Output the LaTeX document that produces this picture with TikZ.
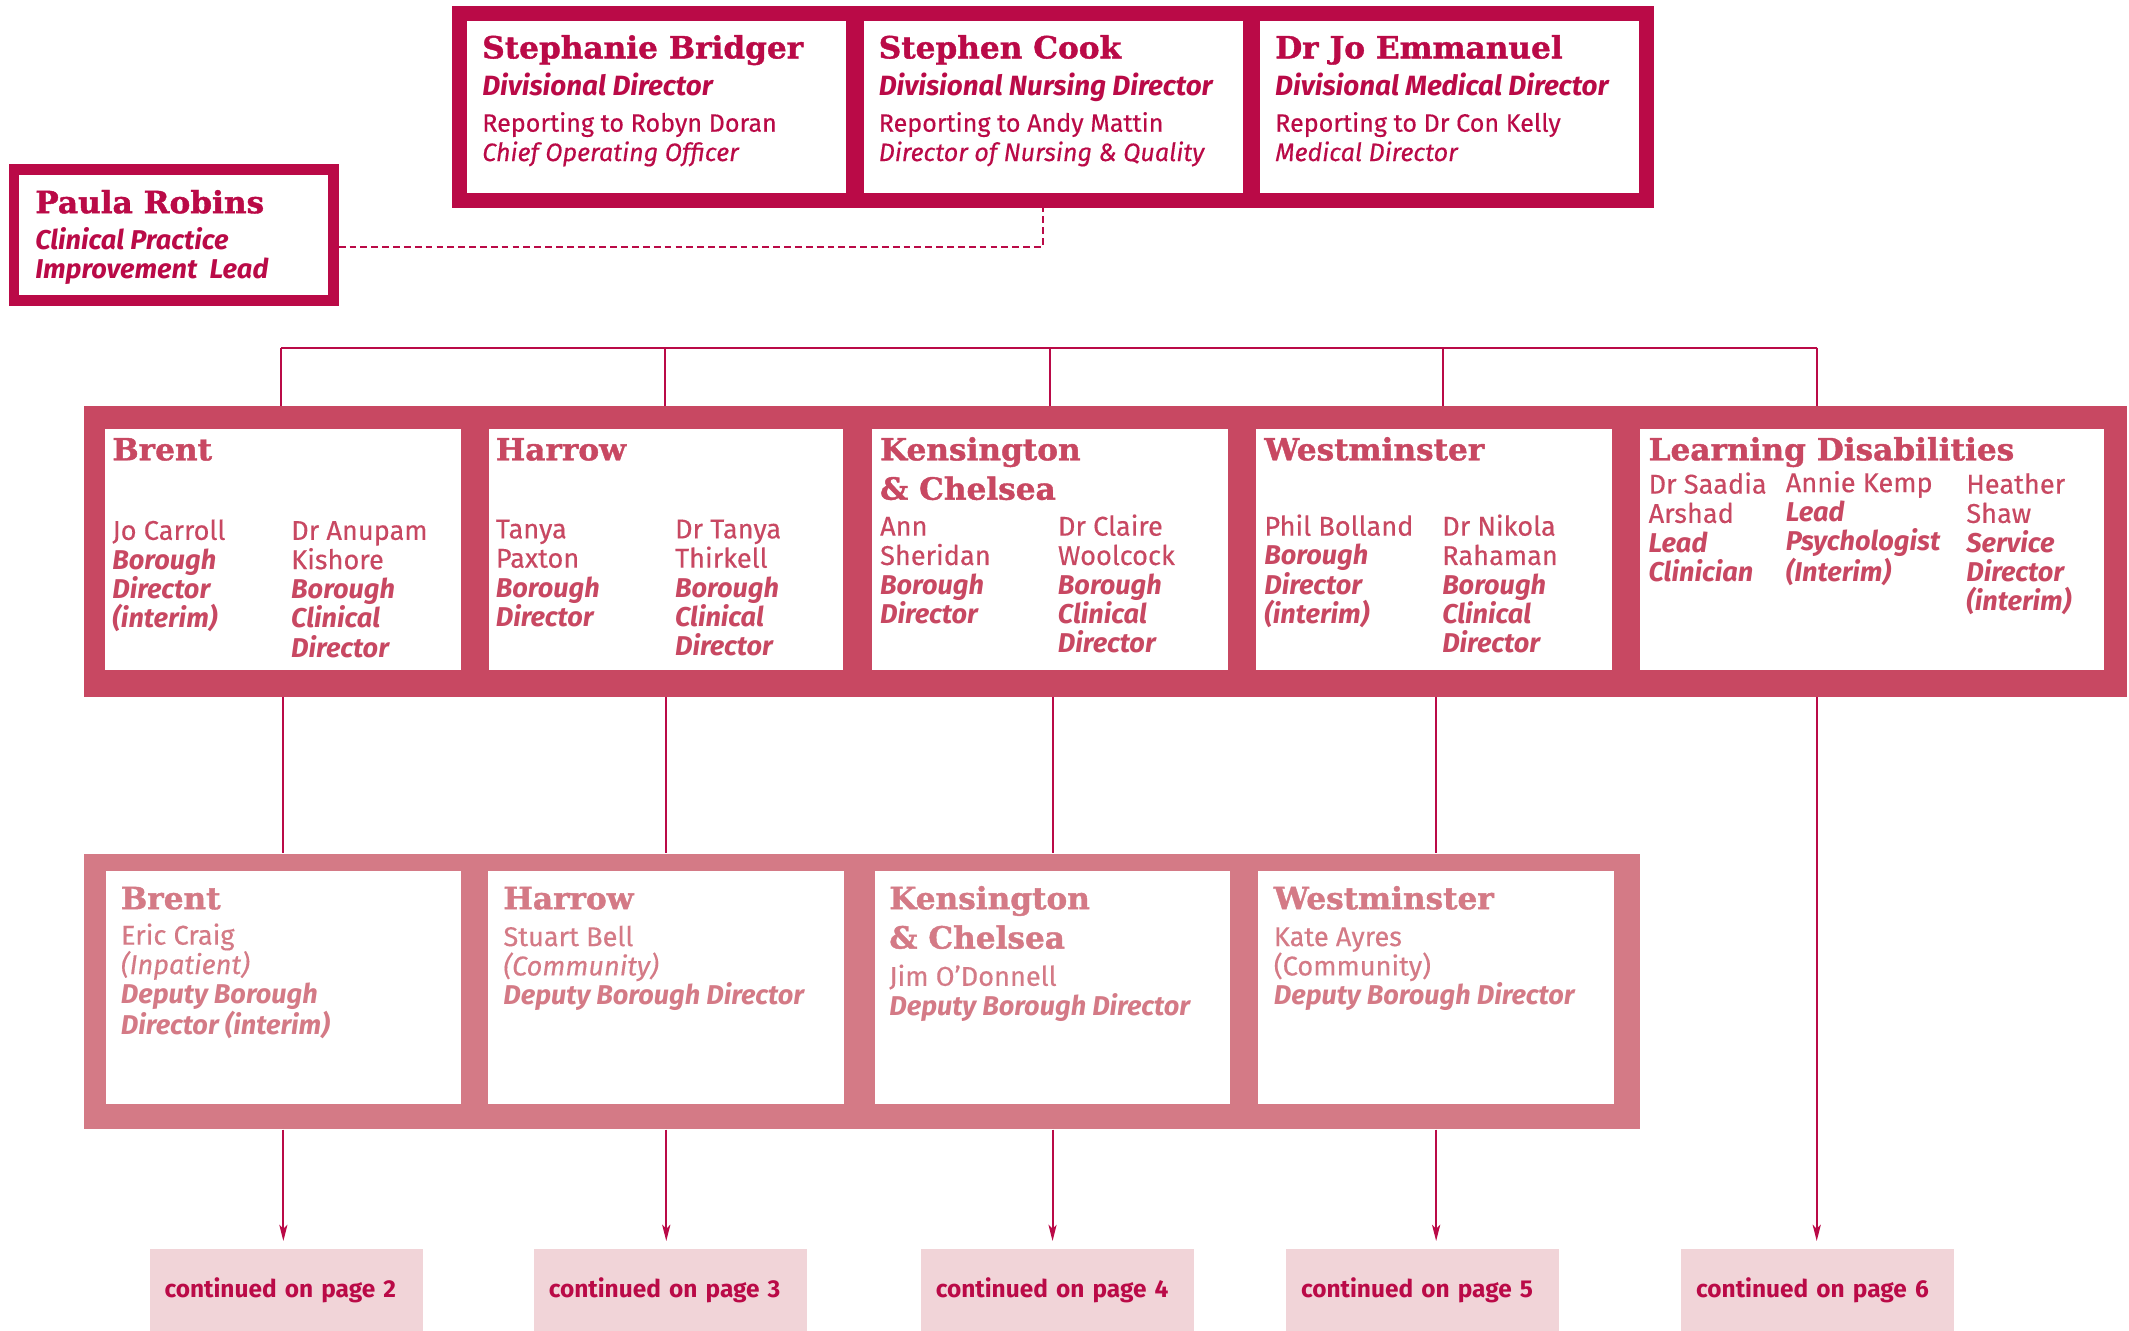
\documentclass[tikz,border=0pt]{standalone}
\usepackage{fontspec}
\setmainfont{Fira Sans}[UprightFeatures={FakeBold=0.35}, ItalicFeatures={FakeBold=0.35}]
\newfontfamily\slabfont{DejaVu Serif}[FakeStretch=1.02, BoldFeatures={FakeBold=1.3}]
\usetikzlibrary{arrows.meta}
\definecolor{topred}{RGB}{186,10,71}
\definecolor{midred}{RGB}{200,72,98}
\definecolor{lowred}{RGB}{212,122,134}
\definecolor{palered}{RGB}{241,212,216}
\newcommand{\roletxt}[1]{{\bfseries\itshape #1}}

\begin{document}
\begin{tikzpicture}[x=1pt,y=-1pt]
    \tikzset{%
      frame/.style={anchor=north west, inner sep=0pt, fill=#1},
      cell/.style={anchor=north west, inner sep=0pt, fill=white},
      head/.style={anchor=base west, inner sep=0pt, align=left,
        font=\slabfont\bfseries\fontsize{22.5}{29}\selectfont},
      % multi-line texts are placed by the baseline of their last line
      txt/.style={anchor=base west, inner sep=0pt, align=left,
        font=\fontsize{20}{21.6}\selectfont},
      toptxt/.style={txt, font=\fontsize{18.5}{21.6}\selectfont},
      cont/.style={anchor=north west, fill=palered, inner xsep=11pt,
        text width=179pt, minimum height=60pt, align=left, text=topred,
        font=\bfseries\fontsize{18}{20}\selectfont},
      link/.style={topred, line width=1.5pt},
      dashlink/.style={topred, line width=1.5pt, dash pattern=on 5pt off 3pt},
      tip/.style={-{Stealth[length=12pt, width=6pt, inset=3pt]}, shorten >=6pt},
    }
    \useasboundingbox (0,0) rectangle (1568,980);

    % divisional directors
    \node[frame=topred, minimum width=885, minimum height=149] (top) at (333,4) {};
    \node[cell, minimum width=279, minimum height=127] (bridger) at (344,15) {};
    \node[cell, minimum width=279, minimum height=127] (cook) at (636,15) {};
    \node[cell, minimum width=279, minimum height=127] (emmanuel) at (928,15) {};

    \node[head, text=topred] (bridgerN) at (355,43) {Stephanie Bridger};
    \node[txt, text=topred, font=\fontsize{20.5}{21.6}\selectfont] (bridgerT) at (355,70)
      {\roletxt{Divisional Director}};
    \node[toptxt, text=topred] (bridgerR) at (355,118.6)
      {Reporting to Robyn Doran\\ \textit{Chief Operating Officer}};
    \node[head, text=topred] (cookN) at (647,43) {Stephen Cook};
    \node[txt, text=topred, font=\fontsize{20.5}{21.6}\selectfont] (cookT) at (647,70)
      {\roletxt{Divisional Nursing Director}};
    \node[toptxt, text=topred] (cookR) at (647,118.6)
      {Reporting to Andy Mattin\\ \textit{Director of Nursing \& Quality}};
    \node[head, text=topred] (emmanuelN) at (939,43) {Dr Jo Emmanuel};
    \node[txt, text=topred, font=\fontsize{20.5}{21.6}\selectfont] (emmanuelT) at (939,70)
      {\roletxt{Divisional Medical Director}};
    \node[toptxt, text=topred] (emmanuelR) at (939,118.6)
      {Reporting to Dr Con Kelly\\ \textit{Medical Director}};

    % clinical practice lead
    \node[anchor=north west, inner sep=0pt, draw=topred, line width=7.8pt, fill=white,
      minimum width=235.3, minimum height=96.5] (paula) at (6.4,121.1) {};
    \node[head, text=topred] (paulaN) at (25.8,157) {Paula Robins};
    \node[txt, text=topred, font=\fontsize{20}{21}\selectfont] (paulaT) at (25.8,205)
      {\roletxt{Clinical Practice}\\ \roletxt{Improvement\ \ Lead}};
    \coordinate (dashcorner) at (768,181.6);
    \draw[dashlink] (paula.east |- dashcorner) -- (dashcorner) -- (dashcorner |- top.south);

    % boroughs
    \node[frame=midred, minimum width=1504, minimum height=214] (mid) at (62,299) {};
    \node[cell, minimum width=262, minimum height=177] (brent) at (77,316) {};
    \node[cell, minimum width=261, minimum height=177] (harrow) at (360,316) {};
    \node[cell, minimum width=262, minimum height=177] (ken) at (642,316) {};
    \node[cell, minimum width=262, minimum height=177] (west) at (925,316) {};
    \node[cell, minimum width=341, minimum height=177] (ld) at (1208,316) {};

    \node[head, text=midred] (brentN) at (82.6,339) {Brent};
    \node[txt, text=midred] (brentA) at (82.6,462.4)
      {Jo Carroll\\ \roletxt{Borough}\\ \roletxt{Director}\\ \roletxt{(interim)}};
    \node[txt, text=midred] (brentB) at (214.3,484)
      {Dr Anupam\\ Kishore\\ \roletxt{Borough}\\ \roletxt{Clinical}\\ \roletxt{Director}};

    \node[head, text=midred] (harrowN) at (365,339) {Harrow};
    \node[txt, text=midred] (harrowA) at (365,461.3)
      {Tanya\\ Paxton\\ \roletxt{Borough}\\ \roletxt{Director}};
    \node[txt, text=midred] (harrowB) at (497,482.9)
      {Dr Tanya\\ Thirkell\\ \roletxt{Borough}\\ \roletxt{Clinical}\\ \roletxt{Director}};

    \node[head, text=midred] (kenN) at (648,368) {Kensington\\ \& Chelsea};
    \node[txt, text=midred] (kenA) at (648,459.3)
      {Ann\\ Sheridan\\ \roletxt{Borough}\\ \roletxt{Director}};
    \node[txt, text=midred] (kenB) at (779,480.9)
      {Dr Claire\\ Woolcock\\ \roletxt{Borough}\\ \roletxt{Clinical}\\ \roletxt{Director}};

    \node[head, text=midred] (westN) at (931,339) {Westminster};
    \node[txt, text=midred] (westA) at (931,459.3)
      {Phil Bolland\\ \roletxt{Borough}\\ \roletxt{Director}\\ \roletxt{(interim)}};
    \node[txt, text=midred] (westB) at (1062,480.9)
      {Dr Nikola\\ Rahaman\\ \roletxt{Borough}\\ \roletxt{Clinical}\\ \roletxt{Director}};

    \node[head, text=midred] (ldN) at (1214,339) {Learning Disabilities};
    \node[txt, text=midred] (ldA) at (1214,428.3)
      {Dr Saadia\\ Arshad\\ \roletxt{Lead}\\ \roletxt{Clinician}};
    \node[txt, text=midred] (ldB) at (1315,428.3)
      {Annie Kemp\\ \roletxt{Lead}\\ \roletxt{Psychologist}\\ \roletxt{(Interim)}};
    \node[txt, text=midred] (ldC) at (1448,449.9)
      {Heather\\ Shaw\\ \roletxt{Service}\\ \roletxt{Director}\\ \roletxt{(interim)}};

    % deputy borough directors
    \node[frame=lowred, minimum width=1146, minimum height=203] (low) at (62,628.5) {};
    \node[cell, minimum width=262, minimum height=171.5] (brentD) at (77.5,641.5) {};
    \node[cell, minimum width=262, minimum height=171.5] (harrowD) at (359.5,641.5) {};
    \node[cell, minimum width=262, minimum height=171.5] (kenD) at (644,641.5) {};
    \node[cell, minimum width=262, minimum height=171.5] (westD) at (926.5,641.5) {};

    \node[head, text=lowred] (brentDN) at (88.9,669.6) {Brent};
    \node[txt, text=lowred] (brentDT) at (88.9,761.6)
      {Eric Craig\\ \textit{(Inpatient)}\\ \roletxt{Deputy Borough}\\ \roletxt{Director (interim)}};
    \node[head, text=lowred] (harrowDN) at (370.6,669.6) {Harrow};
    \node[txt, text=lowred] (harrowDT) at (370.6,740)
      {Stuart Bell\\ \textit{(Community)}\\ \roletxt{Deputy Borough Director}};
    \node[head, text=lowred] (kenDN) at (654.8,698.6) {Kensington\\ \& Chelsea};
    \node[txt, text=lowred] (kenDT) at (654.8,747.6)
      {Jim O’Donnell\\ \roletxt{Deputy Borough Director}};
    \node[head, text=lowred] (westDN) at (938,669.6) {Westminster};
    \node[txt, text=lowred] (westDT) at (938,740)
      {Kate Ayres\\ (Community)\\ \roletxt{Deputy Borough Director}};

    % continued on other pages
    \node[cont] (cont2) at (110,920) {continued on page 2};
    \node[cont] (cont3) at (393,920) {continued on page 3};
    \node[cont] (cont4) at (678,920) {continued on page 4};
    \node[cont] (cont5) at (947,920) {continued on page 5};
    \node[cont] (cont6) at (1238,920) {continued on page 6};

    % links
    \coordinate (bus1) at (207,256);
    \coordinate (bus2) at (490,256);
    \coordinate (bus3) at (773,256);
    \coordinate (bus4) at (1063,256);
    \coordinate (bus5) at (1338,256);
    \draw[link] (bus1) -- (bus5);
    \foreach \b in {bus1,bus2,bus3,bus4,bus5}
      \draw[link] (\b) -- (\b |- mid.north);

    \foreach \b/\c in {brentD/cont2, harrowD/cont3, kenD/cont4, westD/cont5}{
      \draw[link] (mid.south -| \b) -- (low.north -| \b);
      \draw[link, tip] (low.south -| \b) -- (\c.north -| \b);
    }
    \draw[link, tip] (mid.south -| bus5) -- (cont6.north -| bus5);
\end{tikzpicture}
\end{document}
